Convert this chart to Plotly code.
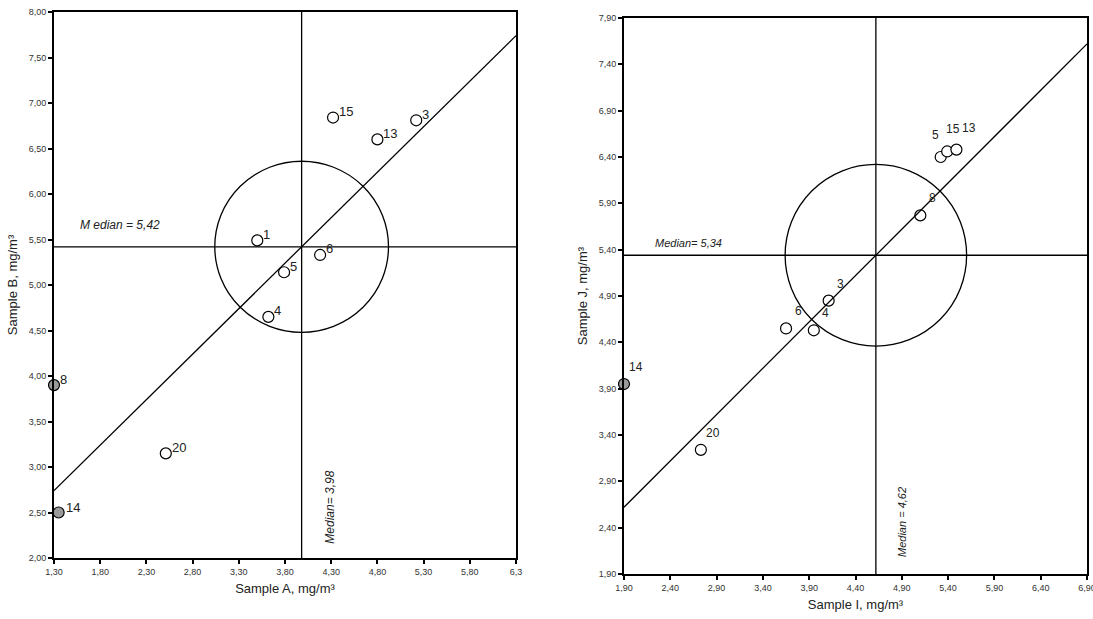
import plotly.graph_objects as go

# ---------------- data ----------------
# Left chart: Sample A (x) vs Sample B (y)
labels_ab = ["1", "5", "6", "4", "15", "13", "3", "20", "14", "8"]
sample_a = [3.50, 3.79, 4.18, 3.62, 4.32, 4.80, 5.22, 2.51, 1.35, 1.30]
sample_b = [5.49, 5.14, 5.33, 4.65, 6.84, 6.60, 6.81, 3.15, 2.50, 3.90]
outlier_ab = [False, False, False, False, False, False, False, False, True, True]
median_a = 3.98
median_b = 5.42

# Right chart: Sample I (x) vs Sample J (y)
labels_ij = ["14", "20", "6", "4", "3", "8", "5", "15", "13"]
sample_i = [1.90, 2.73, 3.65, 3.95, 4.11, 5.10, 5.32, 5.39, 5.49]
sample_j = [3.95, 3.24, 4.55, 4.53, 4.85, 5.77, 6.40, 6.46, 6.48]
outlier_ij = [True, False, False, False, False, False, False, False, False]
median_i = 4.62
median_j = 5.34

# axis tick labels
xt_a_vals = [1.3, 1.8, 2.3, 2.8, 3.3, 3.8, 4.3, 4.8, 5.3, 5.8, 6.3]
xt_a_text = ["1,30", "1,80", "2,30", "2,80", "3,30", "3,80", "4,30", "4,80", "5,30", "5,80", "6,3"]
yt_b_vals = [2.0, 2.5, 3.0, 3.5, 4.0, 4.5, 5.0, 5.5, 6.0, 6.5, 7.0, 7.5, 8.0]
yt_b_text = ["2,00", "2,50", "3,00", "3,50", "4,00", "4,50", "5,00", "5,50", "6,00", "6,50", "7,00", "7,50", "8,00"]
xt_i_vals = [1.9, 2.4, 2.9, 3.4, 3.9, 4.4, 4.9, 5.4, 5.9, 6.4, 6.9]
xt_i_text = ["1,90", "2,40", "2,90", "3,40", "3,90", "4,40", "4,90", "5,40", "5,90", "6,40", "6,90"]
yt_j_vals = [1.9, 2.4, 2.9, 3.4, 3.9, 4.4, 4.9, 5.4, 5.9, 6.4, 6.9, 7.4, 7.9]
yt_j_text = ["1,90", "2,40", "2,90", "3,40", "3,90", "4,40", "4,90", "5,40", "5,90", "6,40", "6,90", "7,40", "7,90"]

range_a = [1.3, 6.3]
range_b = [2.0, 8.0]
range_i = [1.9, 6.9]
range_j = [1.9, 7.9]
radius_ab = 0.94
radius_ij = 0.98

# ---------------- styling ----------------
FONT = "Arial, Liberation Sans, sans-serif"
LINE = dict(color="black", width=1.3)

fig = go.Figure()


def add_points(xs, ys, flags, labels, xa, ya, lab_size, shifts, anchor):
    fills = ["#9a9a9a" if f else "white" for f in flags]
    fig.add_trace(go.Scatter(
        x=xs, y=ys, mode="markers", xaxis=xa, yaxis=ya,
        marker=dict(size=11, color=fills, line=dict(color="black", width=1.2)),
        cliponaxis=False, showlegend=False, hoverinfo="skip"))
    for x, y, t in zip(xs, ys, labels):
        dx, dy = shifts.get(t, shifts["default"])
        fig.add_annotation(x=x, y=y, xref=xa, yref=ya, text=t, showarrow=False,
                           xanchor=anchor, yanchor="middle", xshift=dx, yshift=dy,
                           font=dict(family=FONT, size=lab_size, color="#222"))


add_points(sample_a, sample_b, outlier_ab, labels_ab, "x", "y", 13,
           {"default": (4, 6), "14": (5, 5)}, "left")
add_points(sample_i, sample_j, outlier_ij, labels_ij, "x2", "y2", 12,
           {"default": (12, 17), "5": (-5, 22), "15": (6, 22), "13": (13, 22)}, "center")

# reference lines, circles
def ref_shapes(mx, my, xr, yr, r, xa, ya):
    shp = []
    shp.append(dict(type="line", xref=xa, yref=ya, x0=mx, x1=mx, y0=yr[0], y1=yr[1], line=LINE))
    shp.append(dict(type="line", xref=xa, yref=ya, x0=xr[0], x1=xr[1], y0=my, y1=my, line=LINE))
    off = my - mx
    shp.append(dict(type="line", xref=xa, yref=ya, x0=xr[0], x1=xr[1],
                    y0=xr[0] + off, y1=xr[1] + off, line=LINE))
    shp.append(dict(type="circle", xref=xa, yref=ya, x0=mx - r, x1=mx + r,
                    y0=my - r, y1=my + r, line=LINE))
    return shp


shapes = ref_shapes(median_a, median_b, range_a, range_b, radius_ab, "x", "y") + \
         ref_shapes(median_i, median_j, range_i, range_j, radius_ij, "x2", "y2")

# median texts
fig.add_annotation(x=1.56, y=median_b, xref="x", yref="y", text="<i>M edian = 5,42</i>",
                   showarrow=False, xanchor="left", yanchor="middle", yshift=22,
                   font=dict(family=FONT, size=12, color="#222"))
fig.add_annotation(x=median_a, y=2.56, xref="x", yref="y", text="<i>Median= 3,98</i>",
                   showarrow=False, textangle=-90, xanchor="center", yanchor="middle", xshift=28,
                   font=dict(family=FONT, size=12, color="#222"))
fig.add_annotation(x=2.21, y=median_j, xref="x2", yref="y2", text="<i>Median= 5,34</i>",
                   showarrow=False, xanchor="left", yanchor="middle", yshift=12,
                   font=dict(family=FONT, size=11, color="#222"))
fig.add_annotation(x=median_i, y=2.46, xref="x2", yref="y2", text="<i>Median = 4,62</i>",
                   showarrow=False, textangle=-90, xanchor="center", yanchor="middle", xshift=26,
                   font=dict(family=FONT, size=11, color="#222"))

axis_common = dict(showline=True, linecolor="black", linewidth=2, mirror=True,
                   showgrid=False, zeroline=False, ticks="outside", ticklen=4,
                   tickcolor="black", tickwidth=1.5, automargin=False,
                   ticklabeloverflow="allow",
                   tickfont=dict(family=FONT, size=9, color="#333"))

fig.update_layout(
    width=1093, height=619,
    margin=dict(l=0, r=0, t=0, b=0),
    paper_bgcolor="white", plot_bgcolor="white",
    shapes=shapes,
    xaxis=dict(domain=[54 / 1093, 516 / 1093], range=range_a, tickvals=xt_a_vals, ticktext=xt_a_text,
               title=dict(text="Sample A, mg/m³", font=dict(family=FONT, size=13, color="#222"), standoff=8),
               anchor="y", **axis_common),
    yaxis=dict(domain=[1 - 558 / 619, 1 - 12 / 619], range=range_b, tickvals=yt_b_vals, ticktext=yt_b_text,
               title=dict(text="Sample B, mg/m³", font=dict(family=FONT, size=13, color="#222"), standoff=8),
               anchor="x", **axis_common),
    xaxis2=dict(domain=[624 / 1093, 1087 / 1093], range=range_i, tickvals=xt_i_vals, ticktext=xt_i_text,
                title=dict(text="Sample I, mg/m³", font=dict(family=FONT, size=13, color="#222"), standoff=8),
                anchor="y2", **axis_common),
    yaxis2=dict(domain=[1 - 574 / 619, 1 - 18 / 619], range=range_j, tickvals=yt_j_vals, ticktext=yt_j_text,
                title=dict(text="Sample J, mg/m³", font=dict(family=FONT, size=13, color="#222"), standoff=8),
                anchor="x2", **axis_common),
)

fig.write_html("out.html")
